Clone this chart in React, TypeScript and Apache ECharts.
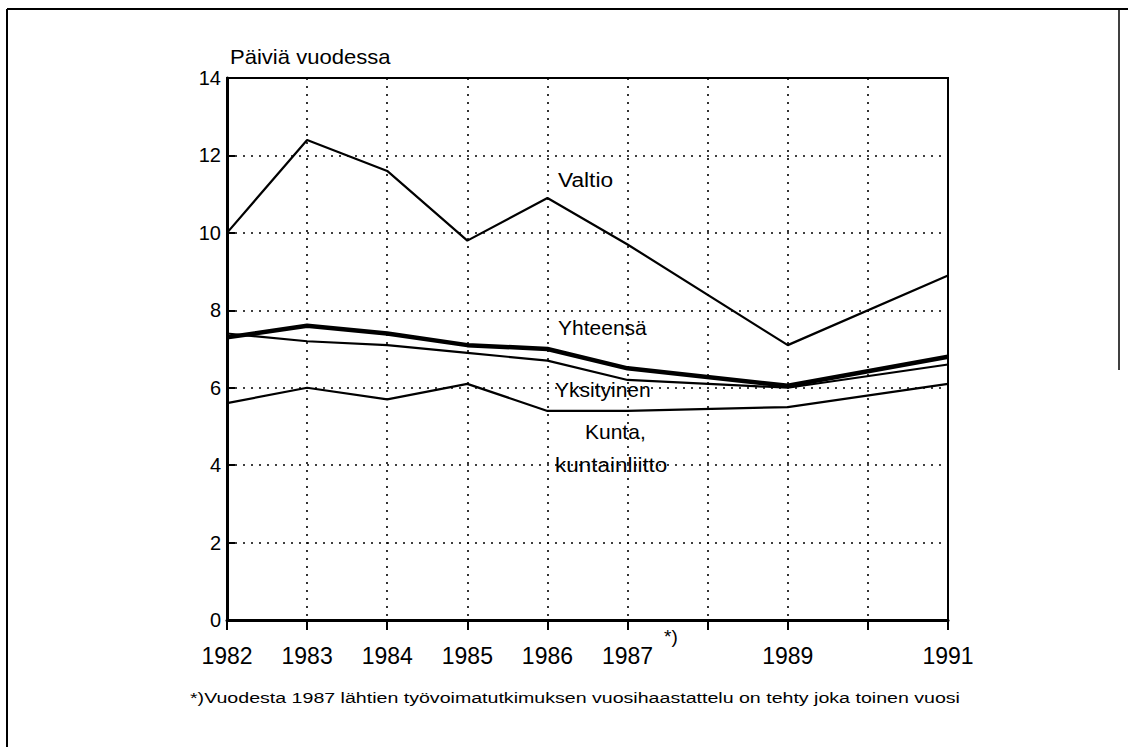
import React, { useEffect, useRef } from "react";
import * as echarts from "echarts";

const years = [1982, 1983, 1984, 1985, 1986, 1987, 1989, 1991];
const valtio = [10.0, 12.4, 11.6, 9.8, 10.9, 9.7, 7.1, 8.9];
const yhteensa = [7.3, 7.6, 7.4, 7.1, 7.0, 6.5, 6.05, 6.8];
const yksityinen = [7.4, 7.2, 7.1, 6.9, 6.7, 6.2, 6.0, 6.6];
const kunta = [5.6, 6.0, 5.7, 6.1, 5.4, 5.4, 5.5, 6.1];
const shownYearLabels = [1982, 1983, 1984, 1985, 1986, 1987, 1989, 1991];
const yTitle = "Päiviä vuodessa";
const footnote =
  "*)Vuodesta 1987 lähtien työvoimatutkimuksen vuosihaastattelu on tehty joka toinen vuosi";

const FONT = "'Liberation Sans', Arial, Helvetica, sans-serif";

const pairs = (vals: number[]) => years.map((y, i) => [y, vals[i]]);

export default function App() {
  const ref = useRef<HTMLDivElement>(null);
  useEffect(() => {
    document.body.style.margin = "0";
    const chart = echarts.init(ref.current!, null, { renderer: "svg" });
    const dotted = { color: "#000", width: 1.6, type: [2, 6] as any };
    const lineSeries = (name: string, vals: number[], w: number) => ({
      name,
      type: "line",
      data: pairs(vals),
      symbol: "none",
      lineStyle: { color: "#000", width: w },
      z: 5,
    });
    const txt = (text: string, x: number, y: number, size: number, scaleX = 1) => ({
      type: "text",
      x,
      y,
      scaleX,
      style: {
        text,
        fill: "#000",
        font: `${size}px ${FONT}`,
        textVerticalAlign: "middle",
      },
    });
    chart.setOption({
      animation: false,
      backgroundColor: "#fff",
      grid: {
        left: 227,
        right: 180,
        top: 78,
        bottom: 127,
        show: true,
        borderColor: "#000",
        borderWidth: 2,
        backgroundColor: "transparent",
      },
      xAxis: {
        type: "value",
        min: 1982,
        max: 1991,
        interval: 1,
        axisLine: { show: true, lineStyle: { color: "#000", width: 3 } },
        axisTick: { show: true, inside: false, length: 10, lineStyle: { color: "#000", width: 2 } },
        axisLabel: {
          color: "#000",
          fontSize: 23,
          fontFamily: FONT,
          margin: 24,
          formatter: (v: number) => (shownYearLabels.includes(v) ? String(v) : ""),
        },
        splitLine: { show: true, lineStyle: dotted },
      },
      yAxis: {
        type: "value",
        min: 0,
        max: 14,
        interval: 2,
        axisLine: { show: true, lineStyle: { color: "#000", width: 3 } },
        axisTick: { show: true, inside: true, length: 8, lineStyle: { color: "#000", width: 2 } },
        axisLabel: { color: "#000", fontSize: 20, fontFamily: FONT, margin: 6 },
        splitLine: { show: true, lineStyle: dotted },
      },
      series: [
        lineSeries("Valtio", valtio, 2.2),
        lineSeries("Yhteensä", yhteensa, 4.5),
        lineSeries("Yksityinen", yksityinen, 2.2),
        lineSeries("Kunta, kuntainliitto", kunta, 2.2),
      ],
      graphic: [
        { type: "line", shape: { x1: 7, y1: 9, x2: 7, y2: 747 }, style: { stroke: "#000", lineWidth: 2 } },
        { type: "line", shape: { x1: 7, y1: 9, x2: 1128, y2: 9 }, style: { stroke: "#000", lineWidth: 2 } },
        { type: "line", shape: { x1: 1119, y1: 9, x2: 1119, y2: 370 }, style: { stroke: "#000", lineWidth: 1.5 } },
        txt(yTitle, 230, 57, 21, 1.05),
        txt("*)", 664, 636, 19),
        txt("Valtio", 558, 180, 21, 1.08),
        txt("Yhteensä", 558, 327, 21),
        txt("Yksityinen", 555, 389, 21),
        txt("Kunta,", 585, 431, 21),
        txt("kuntainliitto", 555, 465, 21, 1.07),
        txt(footnote, 190, 698, 14, 1.4),
      ],
    });
    return () => chart.dispose();
  }, []);
  return <div ref={ref} style={{ width: 1128, height: 747 }} />;
}
